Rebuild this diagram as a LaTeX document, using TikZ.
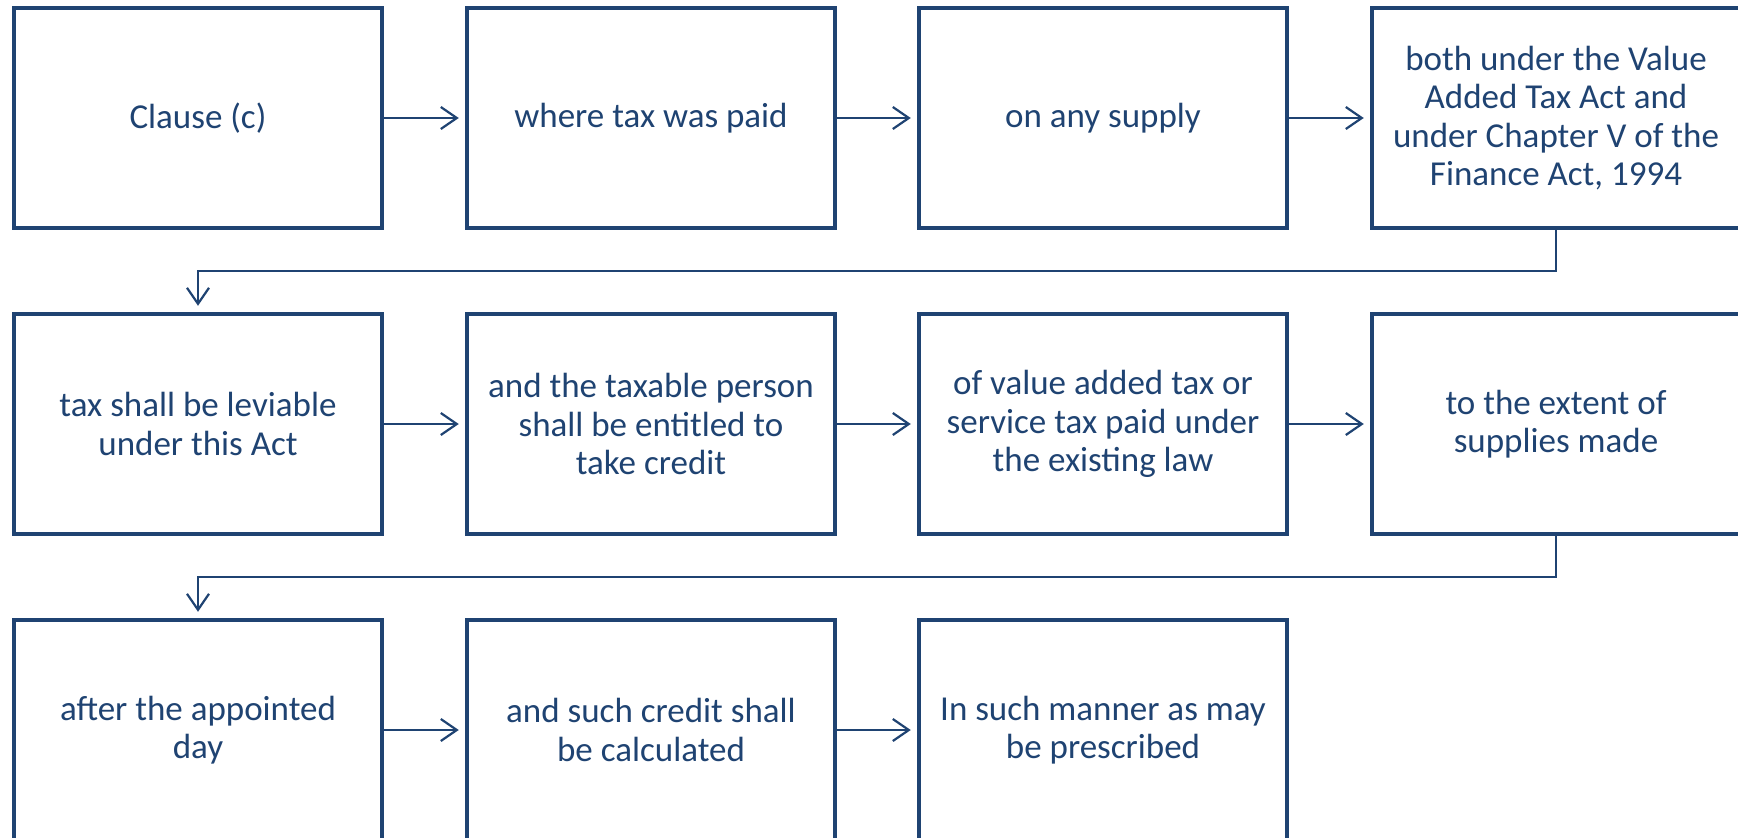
\documentclass[tikz,border=0pt]{standalone}
\usepackage{fontspec}
\setmainfont{Carlito}
\usetikzlibrary{arrows.meta}
\definecolor{navy}{HTML}{1F4372}
\tikzset{
  stepbox/.style={draw=navy, line width=4.5pt, fill=white, minimum width=368pt,
    minimum height=220pt, inner sep=0pt, align=center, text=navy,
    font=\fontsize{35}{38.3}\selectfont},
  flow/.style={draw=navy, line width=2.2pt,
    -{Straight Barb[length=16pt, width=22pt, line width=2.2pt]}, shorten >=6pt},
}
\begin{document}
\begin{tikzpicture}[x=1pt, y=-1pt]
\clip (0,0) rectangle (1738,838);
\fill[white] (0,0) rectangle (1738,838);
% row 1
\node[stepbox] (a1) at (198,118) {Clause (c)};
\node[stepbox] (a2) at (651,118) {where tax was paid};
\node[stepbox] (a3) at (1103,118) {on any supply};
\node[stepbox] (a4) at (1556,118) {both under the Value\\Added Tax Act and\\under Chapter V of the\\Finance Act, 1994};
% row 2
\node[stepbox] (b1) at (198,424) {tax shall be leviable\\under this Act};
\node[stepbox] (b2) at (651,424) {and the taxable person\\shall be entitled to\\take credit};
\node[stepbox] (b3) at (1103,424) {of value added tax or\\service tax paid under\\the existing law};
\node[stepbox] (b4) at (1556,424) {to the extent of\\supplies made};
% row 3
\node[stepbox] (c1) at (198,730) {after the appointed\\day};
\node[stepbox] (c2) at (651,730) {and such credit shall\\be calculated};
\node[stepbox] (c3) at (1103,730) {In such manner as may\\be prescribed};
% connectors
\draw[flow] (a1) -- (a2);
\draw[flow] (a2) -- (a3);
\draw[flow] (a3) -- (a4);
\draw[flow] (a4.south) -- ++(0,41) -| (b1.north);
\draw[flow] (b1) -- (b2);
\draw[flow] (b2) -- (b3);
\draw[flow] (b3) -- (b4);
\draw[flow] (b4.south) -- ++(0,41) -| (c1.north);
\draw[flow] (c1) -- (c2);
\draw[flow] (c2) -- (c3);
\end{tikzpicture}
\end{document}
